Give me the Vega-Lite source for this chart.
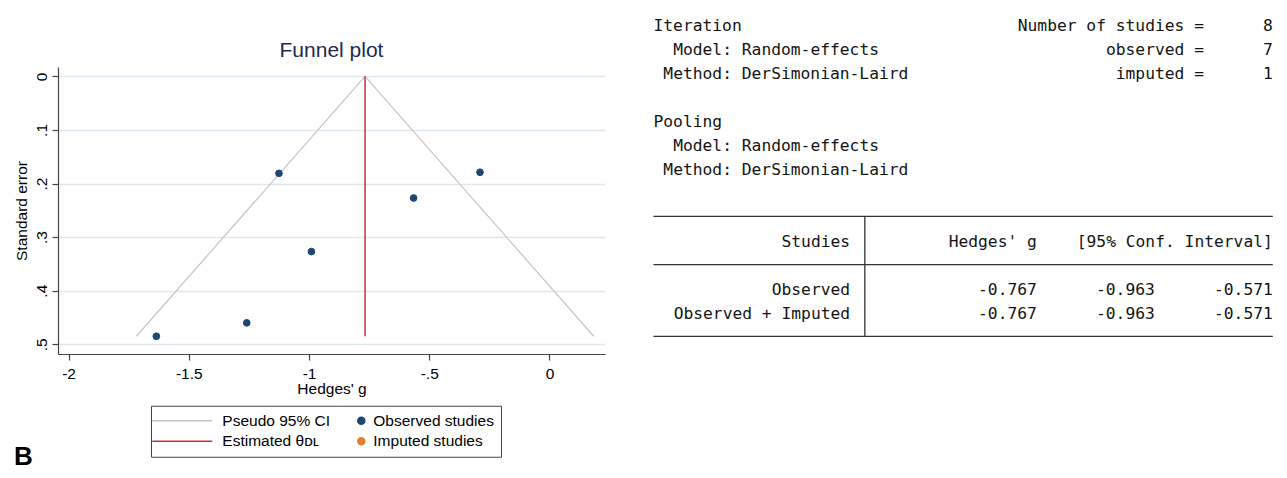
{
  "$schema": "https://vega.github.io/schema/vega-lite/v6.json",
  "background": "white",
  "padding": {"left": 14, "top": 18, "right": 0, "bottom": 0},
  "title": {"text": "B", "orient": "bottom", "anchor": "start", "font": "Liberation Sans", "fontSize": 26, "fontWeight": "bold", "color": "#000000", "offset": -13},
  "datasets": {
    "funnel": [
      {"g": -1.718, "se": 0.485, "series": "Pseudo 95% CI"},
      {"g": -0.767, "se": 0, "series": "Pseudo 95% CI"},
      {"g": 0.184, "se": 0.485, "series": "Pseudo 95% CI"}
    ],
    "estimate": [
      {"g": -0.767, "se": 0, "se2": 0.485, "series": "Estimated θᴅʟ"}
    ],
    "studies": [
      {"g": -1.125, "se": 0.181, "series": "Observed studies"},
      {"g": -0.289, "se": 0.179, "series": "Observed studies"},
      {"g": -0.565, "se": 0.227, "series": "Observed studies"},
      {"g": -0.990, "se": 0.327, "series": "Observed studies"},
      {"g": -1.259, "se": 0.460, "series": "Observed studies"},
      {"g": -1.635, "se": 0.485, "series": "Observed studies"}
    ],
    "imputed": [],
    "text_left": [
      {"line": 1, "col": 0, "text": "Iteration"},
      {"line": 2, "col": 2, "text": "Model: Random-effects"},
      {"line": 3, "col": 1, "text": "Method: DerSimonian-Laird"},
      {"line": 5, "col": 0, "text": "Pooling"},
      {"line": 6, "col": 2, "text": "Model: Random-effects"},
      {"line": 7, "col": 1, "text": "Method: DerSimonian-Laird"}
    ],
    "text_right": [
      {"line": 1, "col": 56, "text": "Number of studies ="},
      {"line": 1, "col": 63, "text": "8"},
      {"line": 2, "col": 56, "text": "observed ="},
      {"line": 2, "col": 63, "text": "7"},
      {"line": 3, "col": 56, "text": "imputed ="},
      {"line": 3, "col": 63, "text": "1"},
      {"line": 10, "col": 20, "text": "Studies"},
      {"line": 10, "col": 39, "text": "Hedges' g"},
      {"line": 10, "col": 63, "text": "[95% Conf. Interval]"},
      {"line": 12, "col": 20, "text": "Observed"},
      {"line": 12, "col": 39, "text": "-0.767"},
      {"line": 12, "col": 51, "text": "-0.963"},
      {"line": 12, "col": 63, "text": "-0.571"},
      {"line": 13, "col": 20, "text": "Observed + Imputed"},
      {"line": 13, "col": 39, "text": "-0.767"},
      {"line": 13, "col": 51, "text": "-0.963"},
      {"line": 13, "col": 63, "text": "-0.571"}
    ],
    "table_rules": [
      {"line": 8.92, "from": 0, "to": 63},
      {"line": 10.93, "from": 0, "to": 63},
      {"line": 13.92, "from": 0, "to": 63}
    ],
    "table_bar": [
      {"col": 21.5, "top": 8.92, "bottom": 13.92}
    ]
  },
  "spacing": 48.5,
  "bounds": "flush",
  "hconcat": [
    {
      "width": 547,
      "height": 287,
      "title": {"text": "Funnel plot", "font": "Liberation Sans", "fontSize": 21, "fontWeight": "normal", "color": "#1e2a52", "frame": "group", "anchor": "middle", "offset": 6},
      "layer": [
        {
          "data": {"name": "funnel"},
          "mark": {"type": "line", "strokeWidth": 1.2},
          "encoding": {
            "x": {
              "field": "g", "type": "quantitative",
              "scale": {"domain": [-2.044, 0.231], "nice": false, "zero": false},
              "axis": {
                "title": "Hedges' g",
                "values": [-2, -1.5, -1, -0.5, 0],
                "labelExpr": "replace(toString(datum.value), '0.', '.')",
                "grid": false,
                "labelFlush": false,
                "tickSize": 6, "labelPadding": 6, "titlePadding": 0
              }
            },
            "y": {
              "field": "se", "type": "quantitative",
              "scale": {"domain": [-0.0174, 0.5181], "reverse": true, "nice": false, "zero": false},
              "axis": {
                "title": "Standard error",
                "values": [0, 0.1, 0.2, 0.3, 0.4, 0.5],
                "labelExpr": "replace(toString(datum.value), '0.', '.')",
                "grid": true,
                "gridColor": "#dde8f0",
                "gridWidth": 1.3,
                "labelAngle": -90,
                "labelFlush": false,
                "tickSize": 6, "labelPadding": 3, "titlePadding": 5
              }
            },
            "stroke": {
              "field": "series", "type": "nominal", "title": "\u00a0",
              "scale": {
                "domain": ["Pseudo 95% CI", "Observed studies", "Estimated θᴅʟ", "Imputed studies"],
                "range": ["#c4c4c4", "#1d4670", "#c8303f", "#e87d2a"]
              }
            }
          }
        },
        {
          "data": {"name": "estimate"},
          "mark": {"type": "rule", "strokeWidth": 1.5},
          "encoding": {
            "x": {"field": "g", "type": "quantitative"},
            "y": {"field": "se", "type": "quantitative"},
            "y2": {"field": "se2"},
            "stroke": {"field": "series", "type": "nominal", "title": "\u00a0"}
          }
        },
        {
          "data": {"name": "studies"},
          "mark": {"type": "point", "shape": "circle", "filled": true, "size": 45, "opacity": 1, "strokeWidth": 1},
          "encoding": {
            "x": {"field": "g", "type": "quantitative"},
            "y": {"field": "se", "type": "quantitative"},
            "stroke": {"field": "series", "type": "nominal", "title": "\u00a0"},
            "fill": {
              "field": "series", "type": "nominal", "title": "\u00a0",
              "scale": {
                "domain": ["Pseudo 95% CI", "Observed studies", "Estimated θᴅʟ", "Imputed studies"],
                "range": ["#c4c4c4", "#1d4670", "#c8303f", "#e87d2a"]
              }
            }
          }
        },
        {
          "data": {"name": "imputed"},
          "mark": {"type": "point", "filled": true, "size": 45, "opacity": 1},
          "encoding": {
            "x": {"field": "g", "type": "quantitative"},
            "y": {"field": "se", "type": "quantitative"},
            "fill": {"field": "series", "type": "nominal", "title": "\u00a0"},
            "shape": {
              "field": "series", "type": "nominal", "title": "\u00a0",
              "scale": {
                "domain": ["Pseudo 95% CI", "Observed studies", "Estimated θᴅʟ", "Imputed studies"],
                "range": ["M-5.362,0L3.869,0", "M3.023,0A0.5385,0.5385,0,1,0,4.1,0A0.5385,0.5385,0,1,0,3.023,0Z", "M-5.362,0L3.869,0", "M3.023,0A0.5385,0.5385,0,1,0,4.1,0A0.5385,0.5385,0,1,0,3.023,0Z"]
              }
            }
          }
        }
      ]
    },
    {
      "width": 619.3,
      "height": 288,
      "layer": [
        {
          "data": {"name": "text_left"},
          "mark": {"type": "text", "align": "left", "baseline": "middle", "font": "DejaVu Sans Mono", "fontSize": 16.3, "color": "#141414"},
          "encoding": {
            "x": {"field": "col", "type": "quantitative", "scale": {"domain": [0, 63], "nice": false, "zero": false}, "axis": null},
            "y": {"field": "line", "type": "quantitative", "scale": {"domain": [2.696, 14.696], "reverse": true, "nice": false, "zero": false}, "axis": null},
            "text": {"field": "text", "type": "nominal"}
          }
        },
        {
          "data": {"name": "text_right"},
          "mark": {"type": "text", "align": "right", "baseline": "middle", "font": "DejaVu Sans Mono", "fontSize": 16.3, "color": "#141414"},
          "encoding": {
            "x": {"field": "col", "type": "quantitative"},
            "y": {"field": "line", "type": "quantitative"},
            "text": {"field": "text", "type": "nominal"}
          }
        },
        {
          "data": {"name": "table_rules"},
          "mark": {"type": "rule", "color": "#333333", "strokeWidth": 1.3},
          "encoding": {
            "x": {"field": "from", "type": "quantitative"},
            "x2": {"field": "to"},
            "y": {"field": "line", "type": "quantitative"}
          }
        },
        {
          "data": {"name": "table_bar"},
          "mark": {"type": "rule", "color": "#333333", "strokeWidth": 1.3},
          "encoding": {
            "x": {"field": "col", "type": "quantitative"},
            "y": {"field": "top", "type": "quantitative"},
            "y2": {"field": "bottom"}
          }
        }
      ]
    }
  ],
  "config": {
    "view": {"stroke": null},
    "font": "Liberation Sans",
    "axis": {
      "labelFont": "Liberation Sans",
      "titleFont": "Liberation Sans",
      "labelFontSize": 15.5,
      "titleFontSize": 15.5,
      "titleFontWeight": "normal",
      "labelColor": "#000000",
      "titleColor": "#000000",
      "domainColor": "#444444",
      "tickColor": "#444444",
      "domainWidth": 1.2,
      "tickWidth": 1.2
    },
    "legend": {
      "orient": "none",
      "legendX": 93,
      "legendY": 338.75,
      "direction": "horizontal",
      "columns": 2,
      "padding": 6.8,
      "rowPadding": 3.85,
      "columnPadding": 0,
      "labelOffset": 27.4,
      "strokeColor": "#444444",
      "labelFont": "Liberation Sans",
      "labelFontSize": 15.5,
      "labelColor": "#000000",
      "labelLimit": 400,
      "symbolSize": 169,
      "symbolStrokeWidth": 1.5,
      "titleOrient": "left",
      "titlePadding": 21.6,
      "titleFont": "Liberation Sans",
      "titleFontSize": 15.5,
      "titleFontWeight": "normal",
      "titleColor": "#000000"
    }
  }
}
